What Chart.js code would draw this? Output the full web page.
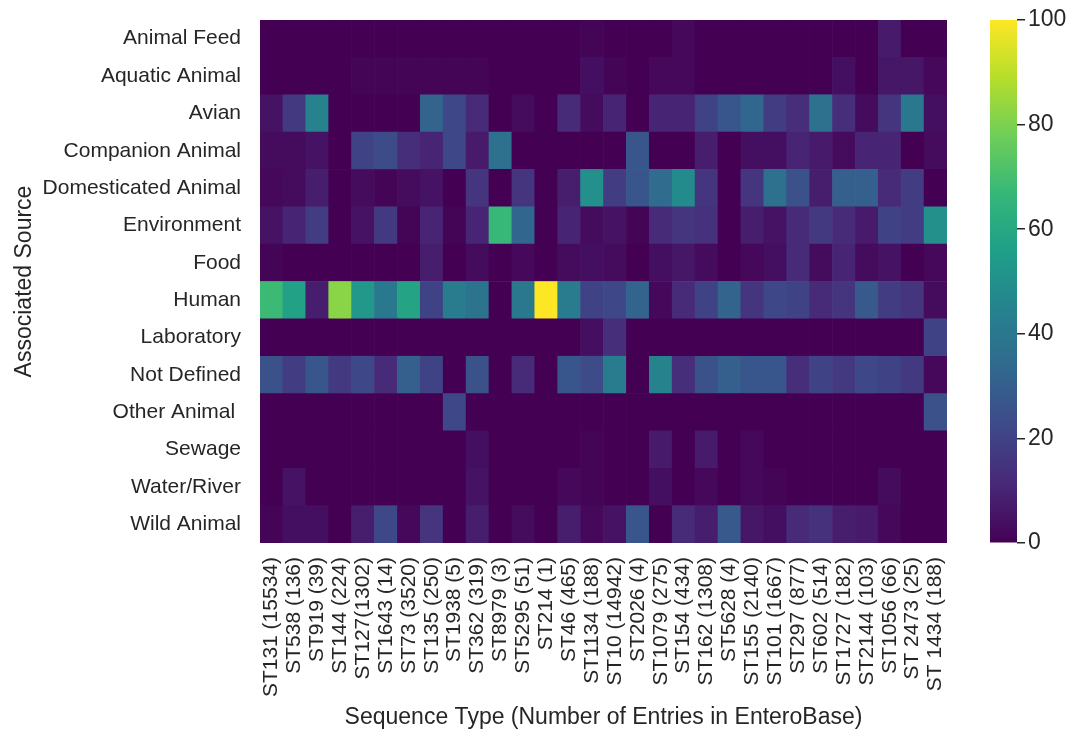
<!DOCTYPE html>
<html><head><meta charset="utf-8">
<script src="https://cdn.jsdelivr.net/npm/chart.js@4.4.0/dist/chart.umd.min.js"></script>
<style>
html,body{margin:0;padding:0;background:#fff;}
#wrap{position:relative;width:1072px;height:731px;overflow:hidden;}
#main{position:absolute;left:0;top:0;width:1072px;height:731px;}
#cbar{position:absolute;left:990px;top:0;width:82px;height:731px;}
</style></head><body>
<div id="wrap"><canvas id="main" width="1072" height="731"></canvas><canvas id="cbar" width="82" height="731"></canvas></div>
<script>
// ---- data ----
const sources = ["Animal Feed","Aquatic Animal","Avian","Companion Animal","Domesticated Animal","Environment","Food","Human","Laboratory","Not Defined","Other Animal ","Sewage","Water/River","Wild Animal"];
const seqTypes = ["ST131 (15534)","ST538 (136)","ST919 (39)","ST144 (224)","ST127(1302)","ST1643 (14)","ST73 (3520)","ST135 (250)","ST1938 (5)","ST362 (319)","ST8979 (3)","ST5295 (51)","ST214 (1)","ST46 (465)","ST1134 (188)","ST10 (14942)","ST2026 (4)","ST1079 (275)","ST154 (434)","ST162 (1308)","ST5628 (4)","ST155 (2140)","ST101 (1667)","ST297 (877)","ST602 (514)","ST1727 (182)","ST2144 (103)","ST1056 (66)","ST 2473 (25)","ST 1434 (188)"];
const animalFeed        = [0,0,0,0,0,0,0,0,0,0,0,0,0,0,1,0,0,0,2,0,0,0,0,0,0,0,0,7,0,0];
const aquaticAnimal     = [0,0,0,0,1,1,1,1,1,1,0,0,0,0,4,1,0,2,2,0,0,0,0,0,0,4,0,6,6,2];
const avian             = [5,17,45,0,0,0,0,32,22,12,0,3,0,12,3,10,0,10,10,20,27,33,18,13,37,13,3,15,40,4];
const companionAnimal   = [3,3,5,0,20,23,13,10,22,7,37,0,0,0,0,0,27,0,0,8,0,4,4,10,7,3,10,10,0,3];
const domesticated      = [2,3,8,0,3,1,3,5,0,15,0,15,0,8,50,18,27,35,48,15,0,15,37,25,8,30,30,12,18,0];
const environment       = [5,10,18,0,5,17,1,10,1,10,67,33,0,10,3,5,1,12,15,14,0,8,5,12,17,12,7,20,18,50];
const food              = [1,0,0,0,0,0,0,8,0,3,0,2,0,3,4,3,0,4,6,3,0,2,4,12,3,10,3,5,0,2];
const human             = [68,57,8,82,53,40,58,20,42,38,0,40,100,42,20,22,32,2,12,20,32,15,22,20,12,15,28,18,15,3];
const laboratory        = [0,0,0,0,0,0,0,0,0,0,0,0,0,0,4,13,0,0,0,0,0,0,0,0,0,0,0,0,0,20];
const notDefined        = [25,18,27,17,22,12,30,20,0,25,0,12,0,27,23,42,0,45,13,25,30,27,27,13,20,17,22,20,17,2];
const otherAnimal       = [0,0,0,0,0,0,0,0,22,0,0,0,0,0,0,0,0,0,0,0,0,0,0,0,0,0,0,0,0,25];
const sewage            = [0,0,0,0,0,0,0,0,0,4,0,0,0,0,1,0,0,7,0,7,0,2,0,0,0,0,0,0,0,0];
const waterRiver        = [0,5,0,0,0,0,0,0,0,5,0,0,0,2,1,0,0,4,0,2,0,2,1,0,0,0,0,3,0,0];
const wildAnimal        = [1,4,4,0,8,22,2,15,0,8,0,3,0,8,2,5,27,0,12,8,28,6,4,12,14,8,7,2,0,0];
const rows = [animalFeed,aquaticAnimal,avian,companionAnimal,domesticated,environment,food,human,laboratory,notDefined,otherAnimal,sewage,waterRiver,wildAnimal];
const cbTicks = [0,20,40,60,80,100];

// ---- colour map (viridis) ----
const VIR = ["#440154","#482878","#3e4989","#31688e","#26828e","#1f9e89","#35b779","#6ece58","#b5de2b","#fde725"];
function hex(h){return [parseInt(h.slice(1,3),16),parseInt(h.slice(3,5),16),parseInt(h.slice(5,7),16)];}
function viridis(t){
  t=Math.max(0,Math.min(1,t));
  const p=t*(VIR.length-1), i=Math.min(Math.floor(p),VIR.length-2), f=p-i;
  const a=hex(VIR[i]), b=hex(VIR[i+1]);
  return `rgb(${Math.round(a[0]+(b[0]-a[0])*f)},${Math.round(a[1]+(b[1]-a[1])*f)},${Math.round(a[2]+(b[2]-a[2])*f)})`;
}

Chart.defaults.font.family = "'Liberation Sans', Arial, sans-serif";
Chart.defaults.color = '#262626';
const TXT = '#262626';

const datasets = sources.map((s,i)=>({
  label:s,
  data: seqTypes.map(()=>1),
  backgroundColor: rows[i].map(v=>viridis(v/100)),
  borderWidth:0,
  barPercentage:1,
  categoryPercentage:1
})).reverse();

new Chart(document.getElementById('main'),{
  type:'bar',
  data:{labels:seqTypes, datasets},
  options:{
    responsive:false, animation:false,
    layout:{padding:{top:20,right:125,left:0,bottom:0}},
    plugins:{legend:{display:false},tooltip:{enabled:false}},
    scales:{
      x:{
        stacked:true,
        grid:{display:false,drawTicks:false},
        border:{display:false},
        ticks:{autoSkip:false,maxRotation:90,minRotation:90,font:{size:21},color:TXT,padding:14},
        title:{display:true,text:'Sequence Type (Number of Entries in EnteroBase)',font:{size:23},color:TXT,padding:{top:0,bottom:0}},
        afterFit:(s)=>{s.height=188;s.paddingLeft=0;s.paddingRight=0;}
      },
      y:{
        stacked:true, min:0, max:sources.length,
        grid:{display:false,drawTicks:false},
        border:{display:false},
        afterBuildTicks:(s)=>{s.ticks=sources.map((_,i)=>({value:i+0.5}));},
        ticks:{font:{size:21},color:TXT,padding:19,
          callback:(v)=>sources[sources.length-1-Math.floor(v)]},
        title:{display:true,text:'Associated Source',font:{size:23},color:TXT,padding:{top:11,bottom:0}},
        afterFit:(s)=>{s.width=260;s.paddingTop=0;s.paddingBottom=0;}
      }
    }
  }
});

new Chart(document.getElementById('cbar'),{
  type:'bar',
  data:{labels:[''],datasets:[{
    data:[[cbTicks[0],cbTicks[cbTicks.length-1]]],
    borderWidth:0,barPercentage:1,categoryPercentage:1,
    backgroundColor:(ctx)=>{
      const ca=ctx.chart.chartArea; if(!ca) return VIR[0];
      const g=ctx.chart.ctx.createLinearGradient(0,ca.bottom,0,ca.top);
      VIR.forEach((c,i)=>g.addColorStop(i/(VIR.length-1),c));
      return g;
    }
  }]},
  options:{
    responsive:false, animation:false,
    layout:{padding:{top:20,bottom:188,left:0,right:0}},
    plugins:{legend:{display:false},tooltip:{enabled:false}},
    scales:{
      x:{display:false},
      y:{position:'right',min:0,max:100,
        afterBuildTicks:(s)=>{s.ticks=cbTicks.map(v=>({value:v}));},
        ticks:{font:{size:23},color:TXT,padding:3},
        grid:{drawOnChartArea:false,drawTicks:true,tickLength:8,color:TXT,lineWidth:1.5},
        border:{display:false},
        afterFit:(s)=>{s.width=55;s.paddingTop=0;s.paddingBottom=0;}
      }
    }
  }
});
</script>
</body></html>
